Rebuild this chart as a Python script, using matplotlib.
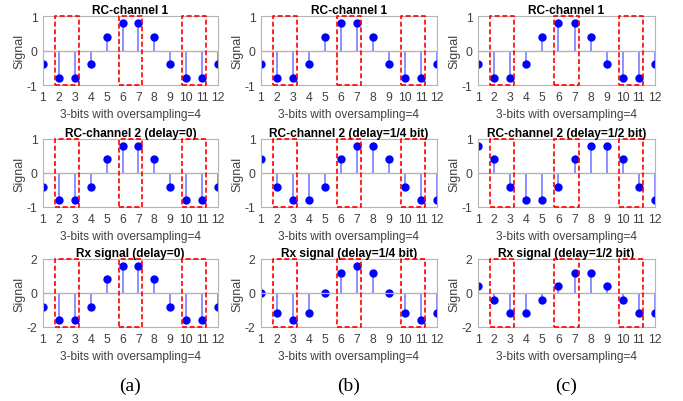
import matplotlib.pyplot as plt
import numpy as np

plt.rcParams['font.family'] = ['Liberation Sans', 'DejaVu Sans']
plt.rcParams['axes.unicode_minus'] = False

samples = np.arange(1, 13)
rc_channel_1 = [-0.4, -0.8, -0.8, -0.4, 0.4, 0.8, 0.8, 0.4, -0.4, -0.8, -0.8, -0.4]
rc_channel_2_d0 = [-0.4, -0.8, -0.8, -0.4, 0.4, 0.8, 0.8, 0.4, -0.4, -0.8, -0.8, -0.4]
rc_channel_2_d14 = [0.4, -0.4, -0.8, -0.8, -0.4, 0.4, 0.8, 0.8, 0.4, -0.4, -0.8, -0.8]
rc_channel_2_d12 = [0.8, 0.4, -0.4, -0.8, -0.8, -0.4, 0.4, 0.8, 0.8, 0.4, -0.4, -0.8]
rx_d0 = [-0.8, -1.6, -1.6, -0.8, 0.8, 1.6, 1.6, 0.8, -0.8, -1.6, -1.6, -0.8]
rx_d14 = [0.0, -1.2, -1.6, -1.2, 0.0, 1.2, 1.6, 1.2, 0.0, -1.2, -1.6, -1.2]
rx_d12 = [0.4, -0.4, -1.2, -1.2, -0.4, 0.4, 1.2, 1.2, 0.4, -0.4, -1.2, -1.2]

# bit windows marked with red dashed boxes
bit_windows = [(1.75, 3.25), (5.75, 7.25), (9.75, 11.25)]

panels = [
    [("RC-channel 1", rc_channel_1, 1),
     ("RC-channel 2 (delay=0)", rc_channel_2_d0, 1),
     ("Rx signal (delay=0)", rx_d0, 2)],
    [("RC-channel 1", rc_channel_1, 1),
     ("RC-channel 2 (delay=1/4 bit)", rc_channel_2_d14, 1),
     ("Rx signal (delay=1/4 bit)", rx_d14, 2)],
    [("RC-channel 1", rc_channel_1, 1),
     ("RC-channel 2 (delay=1/2 bit)", rc_channel_2_d12, 1),
     ("Rx signal (delay=1/2 bit)", rx_d12, 2)],
]
captions = ["(a)", "(b)", "(c)"]

W, H = 683, 402
col_px = [(43, 218), (261, 437), (478, 655)]
row_px = [(17, 86), (140, 208), (260, 328)]
grey = '#b4b4b4'
text_grey = '#404040'

fig = plt.figure(figsize=(W / 100, H / 100), dpi=100)

for c, column in enumerate(panels):
    x0, x1 = col_px[c]
    for r, (title, values, lim) in enumerate(column):
        y0, y1 = row_px[r]
        ax = fig.add_axes([x0 / W, 1 - y1 / H, (x1 - x0) / W, (y1 - y0) / H])
        markerline, stemlines, baseline = ax.stem(samples, values)
        markerline.set_color('#0000ff')
        markerline.set_markersize(5)
        stemlines.set_color('#7070ff')
        stemlines.set_linewidth(1.1)
        baseline.set_color(grey)
        baseline.set_linewidth(1.0)
        for a, b in bit_windows:
            ax.plot([a, b, b, a, a], [-lim, -lim, lim, lim, -lim],
                    color='red', linestyle=(0, (3, 1.6)), linewidth=1.2,
                    clip_on=False, zorder=5)
        ax.set_xlim(1, 12)
        ax.set_ylim(-lim, lim)
        ax.set_xticks(samples)
        ax.set_yticks([-lim, 0, lim])
        ax.tick_params(labelsize=8.8, colors=text_grey, length=0, pad=4)
        for s in ax.spines.values():
            s.set_color(grey)
            s.set_linewidth(0.8)
        ax.set_title(title, fontsize=8.6, fontweight='bold', pad=2.5)
        ax.set_xlabel("3-bits with oversampling=4", fontsize=8.6,
                      color=text_grey, labelpad=4)
        ax.set_ylabel("Signal", fontsize=9, color=text_grey, labelpad=1)
    fig.text((x0 + x1) / 2 / W, 1 - 386 / H, captions[c],
             family='Liberation Serif', fontsize=14, ha='center', va='center')

fig.savefig('out.png', dpi=100)
